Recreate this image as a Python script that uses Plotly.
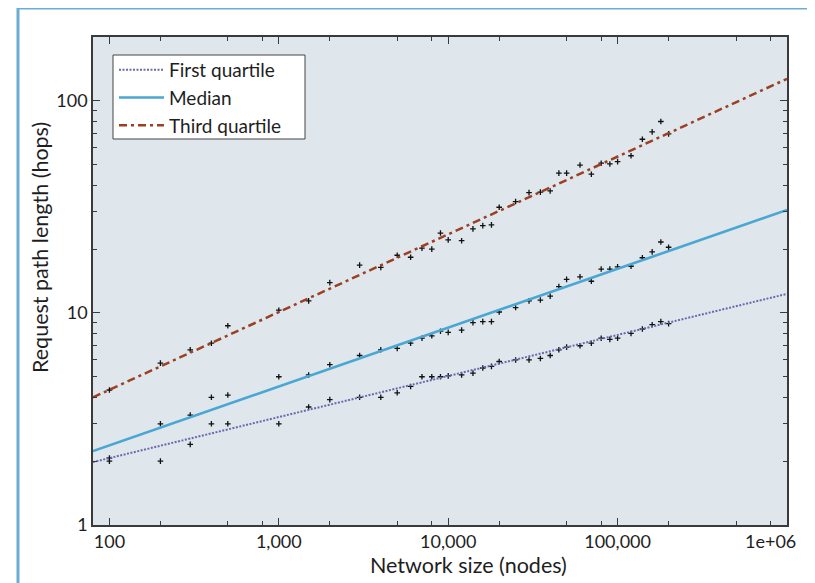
import plotly.graph_objects as go

# ---------------- data ----------------
network_size = [100, 200, 300, 400, 500, 1000, 1500, 2000, 3000, 4000, 5000, 6000,
                7000, 8000, 9000, 10000, 12000, 14000, 16000, 18000, 20000, 25000,
                30000, 35000, 40000, 45000, 50000, 60000, 70000, 80000, 90000,
                100000, 120000, 140000, 160000, 180000, 200000]

first_quartile = [2.0, 2.0, 2.4, 3.0, 3.0, 3.0, 3.6, 3.9, 4.0, 4.0, 4.2, 4.5,
                  5.0, 5.0, 5.0, 5.05, 5.1, 5.2, 5.5, 5.6, 5.9, 6.0,
                  6.0, 6.1, 6.3, 6.7, 6.9, 7.0, 7.2, 7.6, 7.5,
                  7.6, 8.0, 8.4, 8.8, 9.1, 8.9]

median = [2.07, 3.0, 3.3, 4.0, 4.1, 5.0, 5.1, 5.7, 6.3, 6.7, 6.8, 7.2,
          7.6, 7.8, 8.2, 8.1, 8.3, 9.0, 9.1, 9.1, 10.1, 10.6,
          11.4, 11.5, 12.0, 13.3, 14.4, 14.8, 14.1, 16.1, 16.1,
          16.5, 16.6, 18.2, 19.4, 21.6, 20.4]

third_quartile = [4.33, 5.8, 6.7, 7.2, 8.7, 10.3, 11.4, 13.9, 16.8, 16.4, 18.7, 18.3,
                  20.2, 20.0, 23.8, 22.1, 21.9, 24.9, 25.8, 26.0, 31.5, 33.5,
                  36.9, 37.1, 37.6, 45.6, 45.6, 49.8, 45.1, 50.8, 50.4,
                  51.7, 55.1, 65.9, 71.4, 79.9, 69.9]

# fitted lines (end points)
fit_x = [80, 1000000]
fit_first_quartile = [1.98, 12.3]
fit_median = [2.23, 30.6]
fit_third_quartile = [4.0, 127.0]

series_names = ["First quartile", "Median", "Third quartile"]

x_tick_vals = [100, 1000, 10000, 100000]
x_tick_text = ["100", "1,000", "10,000", "100,000"]
x_last_tick_text = "1e+06"
x_minor_vals = [m * d for d in [100, 1000, 10000, 100000] for m in (2, 5, 8)]

y_tick_vals = [1, 10, 100]
y_tick_text = ["1", "10", "100"]
y_minor_vals = [m * d for d in [1, 10] for m in range(2, 10)]

# ---------------- style ----------------
FONT = "Lato, 'Open Sans', 'DejaVu Sans', sans-serif"
TXT = "#1e1e1e"
AX = "#3a3a3a"
C_Q1 = "#6a6aae"
C_MED = "#4aa6d2"
C_Q3 = "#9c3f22"
BG = "#dfe7ec"
FRAME = "#6aaed4"

OFF = 8                      # page body margin of the browser
W, H = 815 - OFF, 583 - OFF
L, R, T, B = 85, 28, 29, 58
pw, ph = W - L - R, H - T - B


def px(xs):
    """screen x pixel -> paper coordinate"""
    return (xs - OFF - L) / pw


def py(ys):
    """screen y pixel -> paper coordinate"""
    return (H - B - (ys - OFF)) / ph


fig = go.Figure()

# scatter points (not in legend)
for vals in (first_quartile, median, third_quartile):
    fig.add_trace(go.Scatter(
        x=network_size, y=vals, mode="markers", showlegend=False,
        marker=dict(symbol="cross-thin", size=4, color="#111111",
                    line=dict(width=1.3, color="#111111")),
        hoverinfo="x+y"))

fig.add_trace(go.Scatter(x=fit_x, y=fit_first_quartile, mode="lines",
                         name=series_names[0],
                         line=dict(color=C_Q1, width=2, dash="2px,1.5px")))
fig.add_trace(go.Scatter(x=fit_x, y=fit_median, mode="lines",
                         name=series_names[1],
                         line=dict(color=C_MED, width=2.6)))
fig.add_trace(go.Scatter(x=fit_x, y=fit_third_quartile, mode="lines",
                         name=series_names[2],
                         line=dict(color=C_Q3, width=2.5, dash="8px,4px,3px,4px")))

axis_common = dict(
    type="log", showgrid=False, zeroline=False,
    showline=True, linecolor=AX, linewidth=1.5, mirror="allticks",
    ticks="inside", ticklen=7, tickwidth=1.2, tickcolor=AX,
    tickfont=dict(family=FONT, size=18, color=TXT),
)

fig.update_xaxes(
    **axis_common,
    range=[1.90309, 6.0],
    tickvals=x_tick_vals, ticktext=x_tick_text,
    minor=dict(tickvals=x_minor_vals, ticks="inside", ticklen=4,
               tickwidth=1.1, tickcolor=AX),
)
fig.update_yaxes(
    **axis_common,
    range=[0, 2.30103],
    tickvals=y_tick_vals, ticktext=y_tick_text,
    minor=dict(tickvals=y_minor_vals, ticks="inside", ticklen=4,
               tickwidth=1.1, tickcolor=AX),
)

fig.update_layout(
    width=W, height=H,
    margin=dict(l=L, r=R, t=T, b=B),
    paper_bgcolor="white", plot_bgcolor=BG,
    font=dict(family=FONT, size=18, color=TXT),
    legend=dict(
        x=px(114), y=py(51), xanchor="left", yanchor="top",
        bgcolor="rgba(0,0,0,0)", borderwidth=0,
        font=dict(family=FONT, size=19, color=TXT),
        itemwidth=45, tracegroupgap=0,
    ),
    annotations=[
        dict(text=x_last_tick_text, x=6.0, xref="x", y=py(541), yref="paper",
             xanchor="right", xshift=11, yanchor="middle", showarrow=False,
             font=dict(family=FONT, size=18, color=TXT)),
        dict(text="Network size (nodes)", x=px(468), y=py(565), xref="paper", yref="paper",
             xanchor="center", yanchor="middle", showarrow=False,
             font=dict(family=FONT, size=21.5, color=TXT)),
        dict(text="Request path length (hops)", x=px(40), y=py(248), xref="paper", yref="paper",
             xanchor="center", yanchor="middle", textangle=-90, showarrow=False,
             font=dict(family=FONT, size=21.5, color=TXT)),
    ],
    shapes=[
        # legend box
        dict(type="rect", xref="paper", yref="paper", x0=px(113), x1=px(305),
             y0=py(55), y1=py(139), fillcolor="white", layer="above",
             line=dict(color="#444444", width=1)),
        # outer blue frame
        dict(type="line", xref="paper", yref="paper", x0=px(18), x1=px(18),
             y0=py(8), y1=py(600), line=dict(color=FRAME, width=3)),
        dict(type="line", xref="paper", yref="paper", x0=px(18), x1=px(815),
             y0=py(8), y1=py(8), line=dict(color=FRAME, width=3)),
        dict(type="line", xref="paper", yref="paper", x0=px(812), x1=px(812),
             y0=py(8), y1=py(600), line=dict(color="#d8eaf3", width=2)),
    ],
)

fig.write_html("out.html")
